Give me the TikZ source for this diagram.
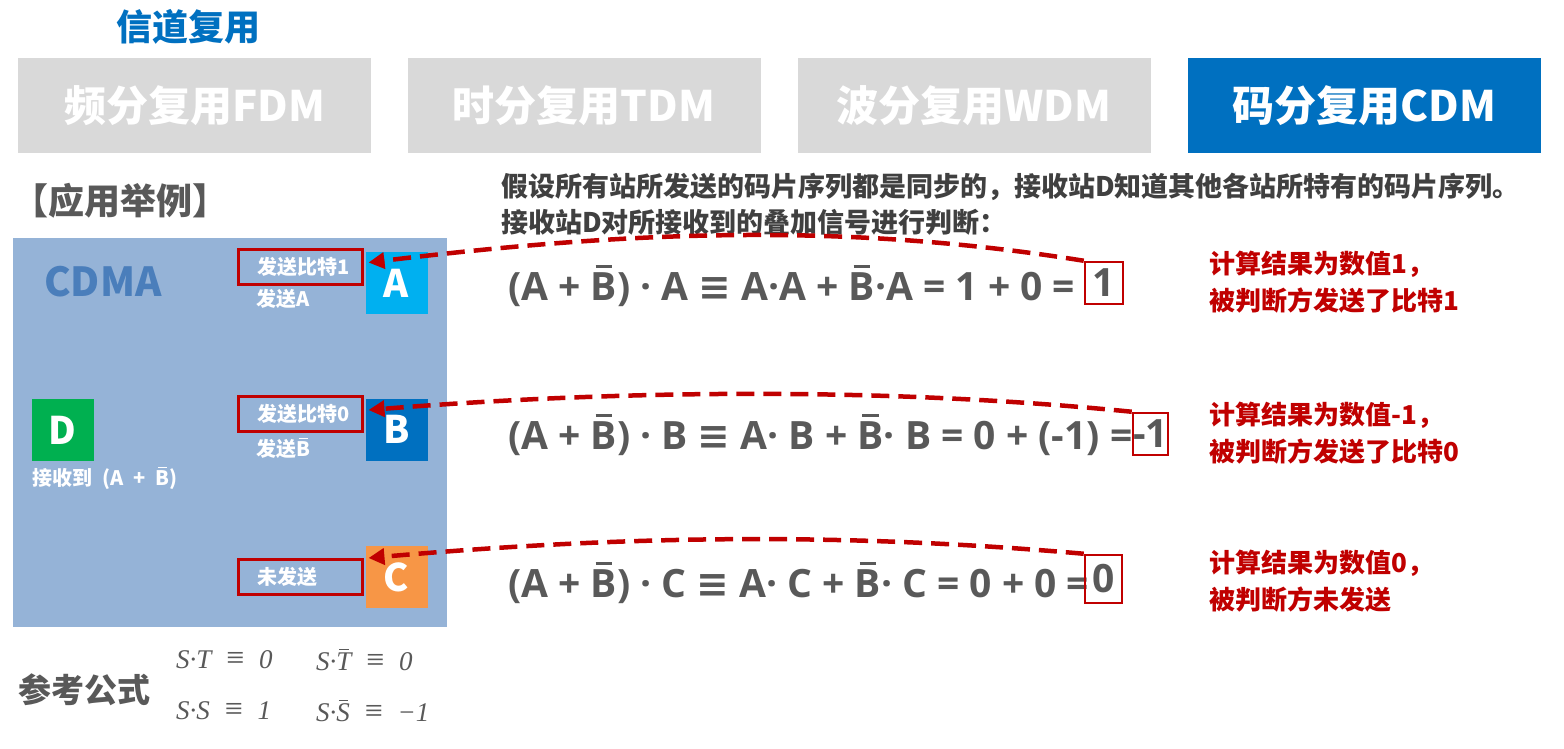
\documentclass[tikz,border=0pt]{standalone}
\usepackage{fontspec}
\setmainfont{Noto Sans CJK SC}
\newfontfamily\eqf{Open Sans}
\newfontfamily\symf{DejaVu Sans}
\newfontfamily\formf{Liberation Serif}
\usetikzlibrary{arrows.meta,calc}
\definecolor{tabgray}{HTML}{D9D9D9}
\definecolor{tabblue}{HTML}{0070C0}
\definecolor{panel}{HTML}{95B3D7}
\definecolor{cdmablue}{HTML}{4A7EBB}
\definecolor{aBlue}{HTML}{00B0F0}
\definecolor{bBlue}{HTML}{0070C0}
\definecolor{cOrange}{HTML}{F79646}
\definecolor{dGreen}{HTML}{00B050}
\definecolor{darkred}{HTML}{C00000}
\definecolor{txtgray}{HTML}{595959}
\definecolor{txtdark}{HTML}{404040}
\newcommand{\obar}[2][0.09em]{\setbox0=\hbox{#2}\leavevmode\rlap{\hspace{0.18\wd0}\raisebox{\dimexpr\ht0+0.1em\relax}{\rule{0.64\wd0}{#1}}}\box0}
\newcommand{\fsp}{\hspace{0.55em}}
\newcommand{\feq}{{\upshape\fontsize{32}{30}\selectfont ≡}}
\begin{document}
\begin{tikzpicture}[x=1pt,y=-1pt,
  tab/.style={minimum width=353, minimum height=95, inner sep=0, font=\fontsize{42}{48}\selectfont\bfseries, text=white},
  station/.style={minimum size=62, inner sep=0, font=\fontsize{38}{40}\selectfont\bfseries, text=white},
  sig/.style={draw=darkred, line width=3pt, text width=105pt, inner xsep=9.5pt, inner ysep=0pt, minimum height=35, align=left, font=\fontsize{20}{22}\selectfont\bfseries, text=white},
  sub/.style={anchor=west, inner sep=0, font=\fontsize{20}{22}\selectfont\bfseries, text=white},
  desc/.style={anchor=west, inner sep=0, font=\fontsize{27}{30}\selectfont\bfseries, text=txtdark},
  eq/.style={anchor=base west, inner sep=0, font=\eqf\bfseries\fontsize{39}{44}\selectfont, text=txtgray},
  res/.style={draw=darkred, line width=2.5pt, inner sep=0, font=\eqf\bfseries\fontsize{39}{44}\selectfont, text=txtgray},
  restxt/.style={anchor=west, inner sep=0, font=\fontsize{26}{30}\selectfont\bfseries, text=darkred},
  form/.style={anchor=west, inner sep=0, font=\formf\itshape\fontsize{27}{30}\selectfont, text=txtgray},
  sigarrow/.style={draw=darkred, line width=4.5pt, dash pattern=on 18pt off 9pt, -{Triangle[length=16pt,width=16pt]}}
]
\useasboundingbox (0,0) rectangle (1564,748);
\fill[white] (0,0) rectangle (1564,748);

% title
\node[font=\fontsize{36}{40}\selectfont\bfseries, text=tabblue] (title) at (188,27) {信道复用};

% tabs
\node[tab, fill=tabgray] (fdm) at (194.5,105.5) {频分复用FDM};
\node[tab, fill=tabgray] (tdm) at (584,105.5) {时分复用TDM};
\node[tab, fill=tabgray] (wdm) at (974,105.5) {波分复用WDM};
\node[tab, fill=tabblue] (cdm) at (1364.5,105.5) {码分复用CDM};

% example heading
\node[anchor=west, inner sep=0, font=\fontsize{36}{40}\selectfont\bfseries, text=txtgray] (ex) at (12,201) {【应用举例】};

% panel
\node[fill=panel, minimum width=434, minimum height=389, inner sep=0, anchor=north west] (panel) at (13,238) {};
\node[anchor=west, inner sep=0, font=\fontsize{40}{44}\selectfont\bfseries, text=cdmablue] (cdma) at (44,282) {CDMA};

% stations
\node[station, fill=aBlue] (A) at (396.5,283) {A};
\node[station, fill=bBlue] (B) at (396.5,429.5) {B};
\node[station, fill=cOrange] (C) at (396.5,577) {C};
\node[station, fill=dGreen] (D) at (62.5,430) {D};

% signal boxes
\node[sig] (s1) at (300,266.5) {\hspace*{9.5pt}发送比特1};
\node[sig] (s2) at (300,414) {\hspace*{9.5pt}发送比特0};
\node[sig] (s3) at (300,577) {\hspace*{9.5pt}未发送};
\node[sub] (la) at (256,299) {发送A};
\node[sub] (lb) at (256,448) {发送\obar[0.07em]{B}};
\node[sub] (ld) at (32,478) {接收到\enspace(A\enspace+\enspace\obar[0.07em]{B})};

% description
\node[desc] (d1) at (501,187) {假设所有站所发送的码片序列都是同步的，接收站D知道其他各站所特有的码片序列。};
\node[desc] (d2) at (501,222) {接收站D对所接收到的叠加信号进行判断：};

% equations
\node[eq] (e1) at (508,300) {(A + \obar{B}) · A {\symf ≡} A·A + \obar{B}·A = 1 + 0 =};
\node[eq] (e2) at (508,449) {(A + \obar{B}) · B {\symf ≡} A· B + \obar{B} · B = 0 + (-1) =};
\node[eq] (e3) at (508,597) {(A + \obar{B}) · C {\symf ≡} A· C + \obar{B} · C = 0 + 0 =};

\node[res, minimum width=38, minimum height=42] (r1) at (1104,283) {1};
\node[res, minimum width=35, minimum height=42] (r2) at (1150.5,434) {-1};
\node[res, minimum width=37, minimum height=48] (r3) at (1103.5,579) {0};

% arcs
\draw[sigarrow] (r1.north west) .. controls +(-250,-40) and +(250,-30) .. ($(s1.east)+(5,-4)$);
\draw[sigarrow] (r2.north west) .. controls +(-250,-25) and +(250,-20) .. ($(s2.east)+(5,-4)$);
\draw[sigarrow] (r3.north west) .. controls +(-250,-22) and +(250,-22) .. ($(s3.east)+(5,-19)$);

% result texts
\node[restxt] (t1a) at (1209,264) {计算结果为数值1，};
\node[restxt] (t1b) at (1209,301) {被判断方发送了比特1};
\node[restxt] (t2a) at (1209,415) {计算结果为数值-1，};
\node[restxt] (t2b) at (1209,452) {被判断方发送了比特0};
\node[restxt] (t3a) at (1209,563) {计算结果为数值0，};
\node[restxt] (t3b) at (1209,600) {被判断方未发送};

% reference formulas
\node[anchor=west, inner sep=0, font=\fontsize{33}{36}\selectfont\bfseries, text=txtgray] (refl) at (18,690) {参考公式};
\node[form] (f1) at (176,660) {S·T\fsp\feq\fsp0};
\node[form] (f2) at (316,660) {S·\obar[0.04em]{T}\fsp\feq\fsp0};
\node[form] (f3) at (176,711) {S·S\fsp\feq\fsp1};
\node[form] (f4) at (316,711) {S·\obar[0.04em]{S}\fsp\feq\fsp−1};
\end{tikzpicture}
\end{document}
